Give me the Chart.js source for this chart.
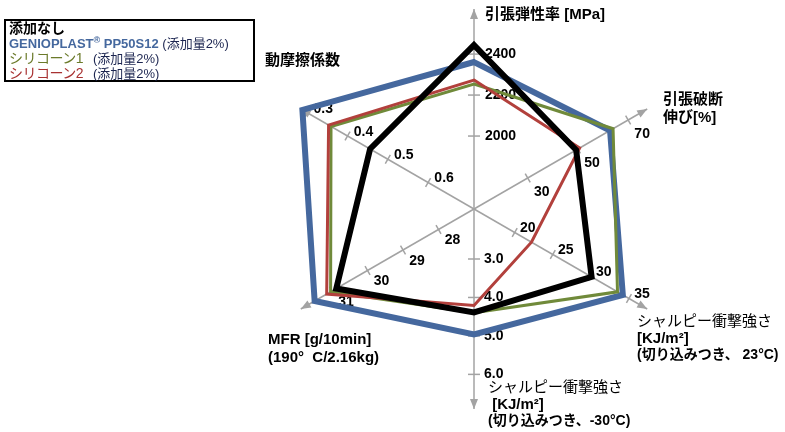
<!DOCTYPE html>
<html>
<head>
<meta charset="utf-8">
<script src="https://cdn.jsdelivr.net/npm/chart.js@4.4.0/dist/chart.umd.min.js"></script>
<style>
  html, body { margin:0; padding:0; background:#fff; }
  #wrap { position:relative; width:785px; height:432px; overflow:hidden; font-family:"Liberation Sans", Arial, "Noto Sans CJK JP", sans-serif; }
  #wrap canvas { position:absolute; left:0; top:0; }
  .t { position:absolute; white-space:pre; color:#000; font-size:15px; line-height:17px; font-family:"Liberation Sans", Arial, "Noto Sans CJK JP", sans-serif; }
  .b { font-weight:bold; }
  .n { font-weight:normal; }
  .sm { font-size:14px; }
  #legend { position:absolute; left:4px; top:19px; width:251px; height:63px; border:2px solid #000; box-sizing:border-box; font-size:13px; line-height:15px; padding-left:3px; }
  #legend div { position:relative; height:15px; white-space:pre; }
  #legend .pct { position:absolute; left:84px; top:0; color:#1c2550; }
  #legend .kat { font-size:14px; letter-spacing:-0.5px; }
</style>
</head>
<body>
<div id="wrap">
  <canvas id="c" width="785" height="432"></canvas>
  <div id="legend">
    <div class="b" style="color:#000; font-size:14px;">添加なし</div>
    <div><span class="b" style="color:#45689e">GENIOPLAST<sup style="font-size:9px;line-height:0">®</sup> PP50S12</span><span style="color:#1c2550"> (添加量2%)</span></div>
    <div><span class="kat" style="color:#6b7a2a">シリコーン1</span><span class="pct">(添加量2%)</span></div>
    <div><span class="kat" style="color:#a83232">シリコーン2</span><span class="pct">(添加量2%)</span></div>
  </div>
  <div class="t b" style="left:485px; top:5px;">引張弾性率 [MPa]</div>
  <div class="t b" style="left:663px; top:90px; line-height:18px;">引張破断
伸び[%]</div>
  <div class="t b" style="left:265px; top:51px;">動摩擦係数</div>
  <div class="t" style="left:637px; top:313px; line-height:16.5px;"><span class="n">シャルピー衝撃強さ</span>
<span class="b">[KJ/m²]</span>
<span class="b sm">(切り込みつき、 23°C)</span></div>
  <div class="t b" style="left:268px; top:330px; line-height:18px;">MFR [g/10min]
(190°  C/2.16kg)</div>
  <div class="t" style="left:488px; top:379px; line-height:16.5px;"><span class="n">シャルピー衝撃強さ</span>
<span class="b"> [KJ/m²]</span>
<span class="b sm">(切り込みつき、-30°C)</span></div>
</div>
<script>
// Axes (clockwise from top)
const categories = ['引張弾性率', '引張破断伸び', 'シャルピー衝撃強さ(23°C)', 'シャルピー衝撃強さ(-30°C)', 'MFR', '動摩擦係数'];
// value at the centre and value at the end of each axis
const axisMin = [1644, 8.6, 14.66, 1.70, 27.0, 0.714];
const axisMax = [2620, 77.6, 37.4, 6.90, 31.88, 0.284];
// series
const seriesNames = ['添加なし', 'GENIOPLAST® PP50S12 (添加量2%)', 'シリコーン1 (添加量2%)', 'シリコーン2 (添加量2%)'];
const noAdditive = [2444, 49.3, 30.1, 4.39, 30.88, 0.456];
const genioplast = [2361, 62.8, 34.2, 4.96, 31.49, 0.288];
const silicone1  = [2254, 64.0, 33.5, 4.40, 31.04, 0.359];
const silicone2  = [2273, 50.7, 22.2, 4.21, 31.15, 0.353];
// tick values / labels per axis
const tickValues = [[2000, 2200, 2400], [30, 50, 70], [20, 25, 30, 35], [3, 4, 5, 6], [28, 29, 30, 31], [0.3, 0.4, 0.5, 0.6]];
const tickLabels = [['2000', '2200', '2400'], ['30', '50', '70'], ['20', '25', '30', '35'], ['3.0', '4.0', '5.0', '6.0'], ['28', '29', '30', '31'], ['0.3', '0.4', '0.5', '0.6']];

const norm = (v, i) => (v - axisMin[i]) / (axisMax[i] - axisMin[i]);
const toNorm = arr => arr.map((v, i) => norm(v, i));

const axisColor = '#a3a3a3';
const labelOffset = [[11, 0, 'left'], [14, 14, 'center'], [13, -4, 'center'], [10, 0, 'left'], [14, 11, 'center'], [16, -4, 'center']];

const axisDecor = {
  id: 'axisDecor',
  beforeDatasetsDraw(chart) {
    const s = chart.scales.r;
    const ctx = chart.ctx;
    const R = s.drawingArea;
    ctx.save();
    for (let i = 0; i < categories.length; i++) {
      const end = s.getPointPosition(i, R);
      const ang = Math.atan2(end.y - s.yCenter, end.x - s.xCenter);
      const c = Math.cos(ang), sn = Math.sin(ang);
      // arrow head
      ctx.fillStyle = axisColor;
      ctx.beginPath();
      ctx.moveTo(end.x, end.y);
      ctx.lineTo(end.x - 10 * c - 4 * sn, end.y - 10 * sn + 4 * c);
      ctx.lineTo(end.x - 10 * c + 4 * sn, end.y - 10 * sn - 4 * c);
      ctx.closePath();
      ctx.fill();
      // tick marks and labels
      const half = (i % 3 === 0) ? 6 : 5;
      tickValues[i].forEach((v, k) => {
        const p = s.getPointPosition(i, norm(v, i) * R);
        ctx.strokeStyle = axisColor;
        ctx.lineWidth = 1.5;
        ctx.beginPath();
        ctx.moveTo(p.x - half * sn, p.y + half * c);
        ctx.lineTo(p.x + half * sn, p.y - half * c);
        ctx.stroke();
        const o = labelOffset[i];
        ctx.fillStyle = '#000';
        ctx.font = 'bold 14px "Liberation Sans", Arial, sans-serif';
        ctx.textAlign = o[2];
        ctx.textBaseline = 'middle';
        ctx.fillText(tickLabels[i][k], p.x + o[0], p.y + o[1]);
      });
    }
    ctx.restore();
  }
};

new Chart(document.getElementById('c'), {
  type: 'radar',
  data: {
    labels: categories,
    datasets: [
      { label: seriesNames[0], data: toNorm(noAdditive), borderColor: '#000000', borderWidth: 6 },
      { label: seriesNames[3], data: toNorm(silicone2), borderColor: '#b2403c', borderWidth: 3 },
      { label: seriesNames[2], data: toNorm(silicone1), borderColor: '#708a3a', borderWidth: 3 },
      { label: seriesNames[1], data: toNorm(genioplast), borderColor: '#45689e', borderWidth: 6 }
    ]
  },
  options: {
    responsive: false,
    animation: false,
    devicePixelRatio: 1,
    layout: { padding: { left: 274, right: 111, top: 9, bottom: 23 } },
    elements: {
      line: { tension: 0, fill: false, borderJoinStyle: 'miter', backgroundColor: 'transparent' },
      point: { radius: 0, hoverRadius: 0 }
    },
    scales: {
      r: {
        min: 0, max: 1,
        ticks: { display: false },
        grid: { display: false },
        angleLines: { display: true, color: axisColor, lineWidth: 1.5 },
        pointLabels: { display: false }
      }
    },
    plugins: { legend: { display: false }, tooltip: { enabled: false } }
  },
  plugins: [axisDecor]
});
</script>
</body>
</html>
